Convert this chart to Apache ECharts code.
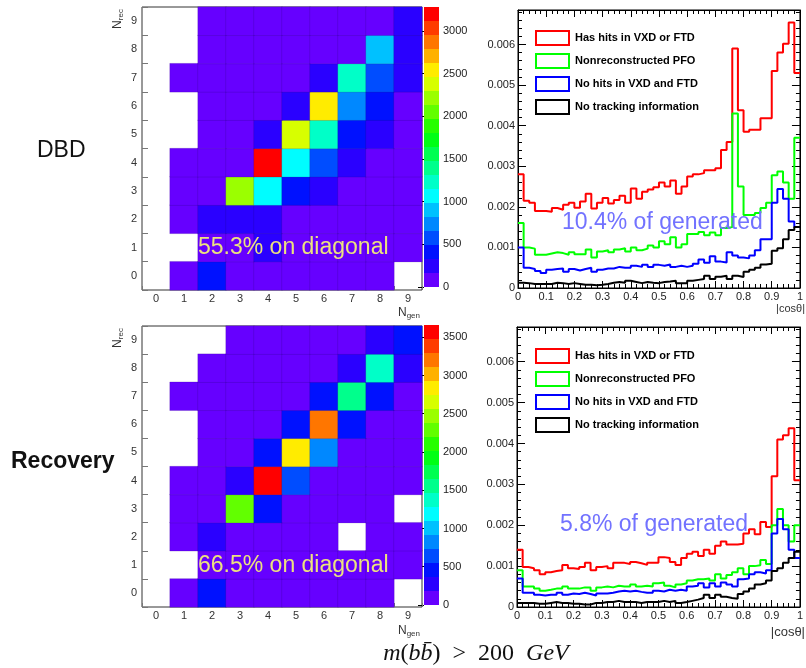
<!DOCTYPE html>
<html><head><meta charset="utf-8">
<script src="https://cdn.jsdelivr.net/npm/echarts@6/dist/echarts.min.js"></script>
<style>html,body{margin:0;padding:0;background:#fff}#c{width:806px;height:668px}</style>
</head><body><div id="c"></div>
<script>
// ---------- DATA ----------
const nLabels = ['0','1','2','3','4','5','6','7','8','9'];
// Rows indexed by N_rec (0..9); each row lists N_gen 0..9; null = empty bin (white)
const dbdCounts = [
  [null, 60, 400, 60, 60, 60, 60, 60, 60, null],
  [null, null, 60, 60, 200, 60, 60, 60, 60, 60],
  [null, 60, 240, 240, 240, 60, 60, 60, 60, 60],
  [null, 60, 60, 2200, 1060, 420, 240, 60, 60, 60],
  [null, 60, 60, 60, 3200, 1060, 600, 240, 60, 60],
  [null, null, 60, 60, 240, 2380, 1230, 400, 260, 60],
  [null, null, 60, 60, 60, 240, 2550, 740, 400, 60],
  [null, 60, 60, 60, 60, 60, 240, 1230, 570, 250],
  [null, null, 60, 60, 60, 60, 60, 60, 900, 250],
  [null, null, 60, 60, 60, 60, 60, 60, 60, 220]
];
const recCounts = [
  [null, 60, 450, 60, 60, 60, 60, 60, 60, null],
  [null, null, 60, 60, 60, 60, 60, 60, 60, 60],
  [null, 60, 270, 60, 60, 60, 60, null, 60, 60],
  [null, 60, 60, 2300, 450, 60, 60, 60, 60, null],
  [null, 60, 60, 270, 3600, 640, 60, 60, 60, 60],
  [null, null, 60, 60, 450, 2830, 850, 60, 60, 60],
  [null, null, 60, 60, 60, 450, 3200, 450, 60, 60],
  [null, 60, 60, 60, 60, 60, 450, 1550, 450, 60],
  [null, null, 60, 60, 60, 60, 60, 270, 1380, 270],
  [null, null, null, 60, 60, 60, 60, 60, 270, 420]
];
const dbdZMax = 3280, recZMax = 3660;
const colorbarTicks = [0, 500, 1000, 1500, 2000, 2500, 3000, 3500];

const seriesNames = ['Has hits in VXD or FTD', 'Nonreconstructed PFO', 'No hits in VXD and FTD', 'No tracking information'];
const binWidth = 0.02; // |cos theta| bins from 0 to 1
const dbdHasHits = [0.0028, 0.00215, 0.0021, 0.0019, 0.0019, 0.00188, 0.00197, 0.00193, 0.00205, 0.0021,
 0.00198, 0.00213, 0.00232, 0.00196, 0.0021, 0.00222, 0.00208, 0.00217, 0.00227, 0.0021,
 0.00245, 0.0022, 0.00237, 0.00243, 0.00248, 0.0026, 0.0025, 0.00265, 0.00232, 0.0025,
 0.00275, 0.0028, 0.00283, 0.0029, 0.0029, 0.00295, 0.0034, 0.0036, 0.0059, 0.00438,
 0.00385, 0.0039, 0.0039, 0.00418, 0.00418, 0.00535, 0.0058, 0.00602, 0.00654, 0.0053];
const dbdNonReco = [0.0016, 0.001, 0.00097, 0.00082, 0.00082, 0.00085, 0.00088, 0.00086, 0.00082, 0.00088,
 0.00083, 0.00083, 0.00095, 0.00075, 0.0009, 0.00093, 0.00088, 0.00095, 0.00098, 0.0009,
 0.001, 0.00093, 0.00097, 0.00105, 0.001, 0.00115, 0.00108, 0.00125, 0.001, 0.00108,
 0.00133, 0.00133, 0.00138, 0.0013, 0.00137, 0.0013, 0.00148, 0.0015, 0.0043, 0.0025,
 0.0018, 0.0018, 0.00185, 0.00197, 0.0021, 0.00278, 0.00287, 0.0026, 0.0022, 0.0037];
const dbdNoHits = [0.001, 0.0005, 0.00047, 0.00042, 0.00037, 0.00045, 0.00047, 0.00048, 0.0004, 0.00047,
 0.00043, 0.00047, 0.0005, 0.0004, 0.00045, 0.00048, 0.00048, 0.00052, 0.0005, 0.0005,
 0.00055, 0.00052, 0.00057, 0.00052, 0.00057, 0.00055, 0.00058, 0.00052, 0.00055, 0.00052,
 0.00055, 0.0006, 0.0007, 0.00062, 0.00078, 0.00065, 0.00063, 0.00088, 0.0008, 0.00075,
 0.00073, 0.0008, 0.00093, 0.0012, 0.0012, 0.0021, 0.00244, 0.0022, 0.00164, 0.0015];
const dbdNoTrack = [0.00013, 0.00012, 0.0001, 0.0001, 0.0001, 0.0001, 0.00013, 0.00012, 0.0001, 0.00012,
 0.0001, 0.00008, 0.00008, 0.00007, 0.00008, 0.0001, 0.00013, 0.00015, 0.00013, 0.00018,
 0.00015, 0.00012, 0.00015, 0.00013, 0.00012, 0.00015, 0.00016, 0.00018, 0.00012, 0.00012,
 0.00018, 0.0002, 0.00022, 0.0003, 0.00022, 0.00028, 0.0003, 0.00022, 0.0003, 0.00027,
 0.0004, 0.00045, 0.0005, 0.00058, 0.0006, 0.00092, 0.00098, 0.0012, 0.00143, 0.0015];
const recHasHits = [0.0014, 0.00098, 0.00095, 0.0009, 0.0008, 0.00085, 0.00088, 0.0009, 0.00103, 0.00095,
 0.00093, 0.00098, 0.00108, 0.0009, 0.00098, 0.001, 0.00095, 0.00108, 0.00108, 0.00105,
 0.0011, 0.00107, 0.00103, 0.00108, 0.00108, 0.00122, 0.0012, 0.0011, 0.00103, 0.0012,
 0.0013, 0.00135, 0.00125, 0.0014, 0.0013, 0.0015, 0.0016, 0.00153, 0.00153, 0.00155,
 0.0018, 0.0019, 0.00178, 0.00208, 0.00196, 0.0032, 0.0041, 0.0042, 0.00437, 0.0031];
const recNonReco = [0.0009, 0.0005, 0.0005, 0.00045, 0.0004, 0.00042, 0.00045, 0.00045, 0.0005, 0.00045,
 0.00045, 0.00048, 0.00048, 0.0004, 0.00048, 0.0005, 0.00048, 0.00052, 0.0005, 0.0005,
 0.00055, 0.0005, 0.00052, 0.0005, 0.00058, 0.0006, 0.00052, 0.00048, 0.00055, 0.00058,
 0.00065, 0.00068, 0.00068, 0.0007, 0.00065, 0.0008, 0.0007, 0.00078, 0.00085, 0.00095,
 0.0008, 0.001, 0.00102, 0.00115, 0.00105, 0.002, 0.0024, 0.002, 0.0016, 0.002];
const recNoHits = [0.0007, 0.00035, 0.00035, 0.0003, 0.00028, 0.0003, 0.0003, 0.00035, 0.0003, 0.00033,
 0.00032, 0.00035, 0.00032, 0.00028, 0.00033, 0.00033, 0.00035, 0.00038, 0.0004, 0.00038,
 0.0004, 0.00037, 0.00035, 0.00035, 0.0004, 0.00038, 0.00042, 0.0004, 0.00042, 0.0004,
 0.0005, 0.00052, 0.00058, 0.00048, 0.00058, 0.0005, 0.0006, 0.00055, 0.0005, 0.00068,
 0.0007, 0.0008, 0.00085, 0.00082, 0.0009, 0.0018, 0.00215, 0.0019, 0.0014, 0.0012];
const recNoTrack = [0.0001, 0.0001, 0.0001, 0.00008, 0.00008, 0.0001, 0.00012, 0.0001, 0.0001, 0.00008,
 0.00008, 0.00006, 0.00006, 0.0001, 0.0001, 0.00012, 0.00012, 0.00015, 0.00012, 0.00012,
 0.00012, 0.0001, 0.00012, 0.00012, 0.00012, 0.00015, 0.00012, 0.00015, 0.0001, 0.00012,
 0.00015, 0.00018, 0.00022, 0.0003, 0.00022, 0.0003, 0.00025, 0.00022, 0.0002, 0.00032,
 0.00038, 0.00045, 0.00055, 0.00058, 0.00065, 0.00088, 0.00095, 0.00108, 0.0012, 0.00135];

// ---------- STYLE ----------
const palette = ['#6600ff','#2a00ff','#0011ff','#004dff','#0088ff','#00c1ff','#00fdff','#00ffc8','#00ff8c','#00ff51',
  '#00ff15','#26ff00','#62ff00','#9bff00','#d7ff00','#ffec00','#ffb100','#ff7600','#ff3b00','#ff0000'];
const lineColors = ['#ff0000', '#00ff00', '#0000ff', '#000000'];
const SANS = '"Liberation Sans", Arial, sans-serif';

function heatData(m) {
  const out = [];
  m.forEach((row, r) => row.forEach((v, g) => { if (v !== null) out.push([g, r, v]); }));
  return out;
}
function pieces(max) {
  const step = max / palette.length;
  return palette.map((c, i) => ({ gte: i * step, lt: (i + 1) * step + (i === palette.length - 1 ? 1 : 0), color: c }));
}
function cbData(max) {
  const step = max / palette.length;
  return palette.map((c, i) => [i, i * step, (i + 1) * step]);
}
function stepData(vals) {
  const d = vals.map((v, i) => [+(i * binWidth).toFixed(2), v]);
  d.push([1, vals[vals.length - 1]]);
  return d;
}
const cbRender = (params, api) => {
  const i = api.value(0);
  const p0 = api.coord([0, api.value(1)]);
  const p1 = api.coord([1, api.value(2)]);
  return { type: 'rect', shape: { x: p0[0], y: p1[1], width: p1[0] - p0[0], height: p0[1] - p1[1] }, style: { fill: palette[i] } };
};

const chart = echarts.init(document.getElementById('c'), null, { renderer: 'canvas' });

const heatGrid = (top, h) => ({ left: 142, top: top, width: 280, height: h, show: true, borderColor: '#333', borderWidth: 1, backgroundColor: '#fff' });
const cbGrid = (top) => ({ left: 424, top: top, width: 15, height: 280 });
const histGrid = (left, top, w, h) => ({ left: left, top: top, width: w, height: h, show: true, borderColor: '#000', borderWidth: 1 });

const catX = (gi) => ({ type: 'category', gridIndex: gi, data: nLabels, boundaryGap: true,
  axisLine: { show: false }, axisTick: { show: true, inside: true, length: 4, lineStyle: { color: '#777' } },
  axisLabel: { fontFamily: SANS, fontSize: 11, color: '#333', margin: 3 }, splitLine: { show: false } });
const catY = (gi) => ({ type: 'category', gridIndex: gi, data: nLabels, boundaryGap: true,
  axisLine: { show: false }, axisTick: { show: true, inside: true, length: 6, lineStyle: { color: '#777' } },
  axisLabel: { fontFamily: SANS, fontSize: 11, color: '#333', margin: 5 }, splitLine: { show: false } });
const cbX = (gi) => ({ type: 'value', gridIndex: gi, min: 0, max: 1, show: false });
const cbY = (gi, max) => ({ type: 'value', gridIndex: gi, min: 0, max: max, interval: 500, position: 'right',
  axisLine: { show: false }, splitLine: { show: false },
  axisTick: { show: true, inside: true, length: 6, lineStyle: { color: '#000' } },
  axisLabel: { showMaxLabel: false, fontFamily: SANS, fontSize: 11, color: '#222', margin: 4,
    formatter: v => colorbarTicks.includes(v) ? String(v) : '' } });

const histX = (gi, pos) => ({ type: 'value', gridIndex: gi, min: 0, max: 1, interval: 0.1, position: pos,
  axisLine: { show: true, onZero: false, lineStyle: { color: '#000' } }, splitLine: { show: false },
  axisTick: { show: true, inside: true, length: 7, lineStyle: { color: '#000' } },
  minorTick: { show: true, splitNumber: 5, length: 4, lineStyle: { color: '#000' } },
  axisLabel: pos === 'bottom' ? { fontFamily: SANS, fontSize: 11, color: '#222', margin: 3,
    formatter: v => v === 0 ? '0' : (Math.round(v * 10) / 10).toString() } : { show: false } });
const histY = (gi, pos) => ({ type: 'value', gridIndex: gi, min: 0, max: 0.00685, interval: 0.001, position: pos,
  axisLine: { show: true, onZero: false, lineStyle: { color: '#000' } }, splitLine: { show: false },
  axisTick: { show: true, inside: true, length: 8, lineStyle: { color: '#000' } },
  minorTick: { show: true, splitNumber: 5, length: 4, lineStyle: { color: '#000' } },
  axisLabel: pos === 'left' ? { showMaxLabel: false, fontFamily: SANS, fontSize: 11, color: '#222', margin: 3,
    formatter: v => { if (v === 0) return '0'; const k = v * 1000; return Math.abs(k - Math.round(k)) < 1e-6 ? v.toFixed(3) : ''; } } : { show: false } });

const histSeries = (xi, yi, arrs) => arrs.map((a, i) => ({
  type: 'line', name: seriesNames[i], xAxisIndex: xi, yAxisIndex: yi, step: 'end', symbol: 'none',
  data: stepData(a), lineStyle: { color: lineColors[i], width: 2 }, itemStyle: { color: lineColors[i] },
  z: 3 + i, animation: false, silent: true
}));

const legend = (top) => ({
  orient: 'vertical', left: 535, top: top, padding: 0, itemWidth: 33, itemHeight: 14, itemGap: 7, icon: 'rect',
  selectedMode: false,
  textStyle: { fontFamily: SANS, fontWeight: 'bold', fontSize: 11, lineHeight: 14, color: '#000', padding: [0, 0, 0, 1] },
  data: seriesNames.map((n, i) => ({ name: n, itemStyle: { color: 'rgba(255,255,255,0)', borderColor: lineColors[i], borderWidth: 2 } }))
});

const txt = (x, y, text, font, fill, align) => ({ type: 'text', x: x, y: y, z: 100,
  style: { text: text, font: font, fill: fill, align: align || 'left', verticalAlign: 'middle' } });
const sub = (x, y, main, s, rot, align) => ({ type: 'text', x: x, y: y, rotation: rot, z: 100,
  style: { text: '{n|' + main + '}{s|' + s + '}', align: align, verticalAlign: 'middle',
    rich: { n: { fontFamily: SANS, fontSize: 12, fill: '#333' }, s: { fontFamily: SANS, fontSize: 8, fill: '#333', padding: [5, 0, 0, 0] } } } });

chart.setOption({
  animation: false,
  backgroundColor: '#fff',
  grid: [heatGrid(7, 283), cbGrid(7), heatGrid(326, 281), cbGrid(325), histGrid(518, 10, 285, 278), histGrid(517, 327, 287, 280)],
  xAxis: [catX(0), cbX(1), catX(2), cbX(3), histX(4, 'bottom'), histX(4, 'top'), histX(5, 'bottom'), histX(5, 'top')],
  yAxis: [catY(0), cbY(1, dbdZMax), catY(2), cbY(3, recZMax), histY(4, 'left'), histY(4, 'right'), histY(5, 'left'), histY(5, 'right')],
  visualMap: [
    { type: 'piecewise', show: false, seriesIndex: 0, dimension: 2, pieces: pieces(dbdZMax) },
    { type: 'piecewise', show: false, seriesIndex: 2, dimension: 2, pieces: pieces(recZMax) }
  ],
  legend: [legend(30), legend(348)],
  series: [
    { type: 'heatmap', xAxisIndex: 0, yAxisIndex: 0, data: heatData(dbdCounts), itemStyle: { borderColor: 'rgba(30,0,90,0.25)', borderWidth: 0.6 }, silent: true },
    { type: 'custom', xAxisIndex: 1, yAxisIndex: 1, data: cbData(dbdZMax), renderItem: cbRender, encode: { x: -1, y: [1, 2] }, silent: true },
    { type: 'heatmap', xAxisIndex: 2, yAxisIndex: 2, data: heatData(recCounts), itemStyle: { borderColor: 'rgba(30,0,90,0.25)', borderWidth: 0.6 }, silent: true },
    { type: 'custom', xAxisIndex: 3, yAxisIndex: 3, data: cbData(recZMax), renderItem: cbRender, encode: { x: -1, y: [1, 2] }, silent: true },
    ...histSeries(4, 4, [dbdHasHits, dbdNonReco, dbdNoHits, dbdNoTrack]),
    ...histSeries(6, 6, [recHasHits, recNonReco, recNoHits, recNoTrack])
  ],
  graphic: [
    txt(37, 151, 'DBD', '23px ' + SANS, '#111'),
    txt(11, 462, 'Recovery', 'bold 23px ' + SANS, '#111'),
    txt(198, 248, '55.3% on diagonal', '23px ' + SANS, '#ece27e'),
    txt(198, 566, '66.5% on diagonal', '23px ' + SANS, '#ece27e'),
    txt(562, 223, '10.4% of generated', '23px ' + SANS, '#7272ff'),
    txt(560, 525, '5.8% of generated', '23px ' + SANS, '#7272ff'),
    txt(805, 309, '|cosθ|', '11px ' + SANS, '#333', 'right'),
    txt(805, 632, '|cosθ|', '13px ' + SANS, '#333', 'right'),
    sub(118, 19, 'N', 'rec', Math.PI / 2, 'center'),
    sub(118, 338, 'N', 'rec', Math.PI / 2, 'center'),
    sub(420, 313, 'N', 'gen', 0, 'right'),
    sub(420, 631, 'N', 'gen', 0, 'right'),
    { type: 'text', x: 476, y: 654, z: 100,
      style: { text: '{i|m}{n|(}{i|bb\u0304}{n|)\u2002>\u2002200\u2002}{i|GeV}', align: 'center', verticalAlign: 'middle',
        rich: { i: { fontFamily: '"Liberation Serif", "DejaVu Serif", serif', fontStyle: 'italic', fontSize: 24, fill: '#111' },
                n: { fontFamily: '"Liberation Serif", "DejaVu Serif", serif', fontSize: 24, fill: '#111' } } } }
  ]
});
</script>
</body></html>
